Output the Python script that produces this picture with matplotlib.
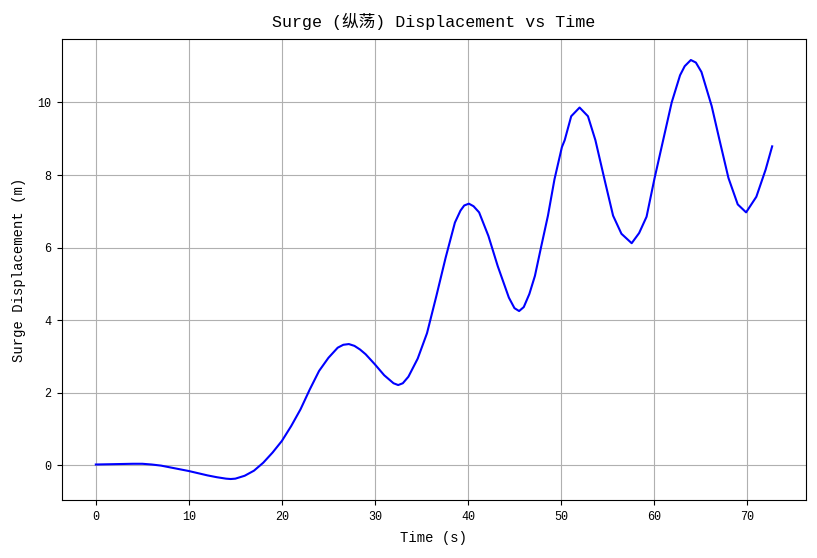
import matplotlib
matplotlib.use('Agg')
import matplotlib.pyplot as plt

plt.rcParams['font.family'] = ['Liberation Mono', 'Noto Sans CJK SC', 'DejaVu Sans']
plt.rcParams['axes.unicode_minus'] = False

# 时间和纵荡位移
time_s = [0, 2, 4, 5, 6, 7, 8, 9, 10, 11, 12, 13, 14, 14.5, 15, 16, 17, 18, 19,
          20, 21, 22, 23, 24, 25, 26, 26.6, 27.2, 27.8, 28.4, 29, 30, 31, 32, 32.5,
          33, 33.6, 34.6, 35.6, 36.6, 37.6, 38.6, 39.2, 39.6, 40.1, 40.6, 41.2,
          42.2, 43.2, 44.4, 45.0, 45.5, 46.0, 46.6, 47.2, 47.85, 48.6, 49.3, 50.1,
          50.4, 51.1, 52.0, 52.9, 53.7, 54.75, 55.6, 56.5, 57.6, 58.4, 59.2, 60.05,
          61.0, 61.9, 62.8, 63.3, 63.96, 64.5, 65.1, 66.2, 67, 68, 69, 69.9, 71,
          72, 72.7]
surge_m = [0.02, 0.03, 0.04, 0.04, 0.02, -0.01, -0.06, -0.11, -0.16, -0.22, -0.28,
           -0.33, -0.37, -0.38, -0.37, -0.29, -0.15, 0.07, 0.35,
           0.67, 1.08, 1.54, 2.09, 2.60, 2.96, 3.24, 3.32, 3.34, 3.29, 3.19, 3.06,
           2.78, 2.48, 2.26, 2.21,
           2.26, 2.44, 2.94, 3.64, 4.66, 5.72, 6.69, 7.02, 7.16, 7.21, 7.14, 6.97,
           6.32, 5.49, 4.62, 4.33, 4.25, 4.36, 4.72, 5.22, 6.00, 6.88, 7.88, 8.77,
           8.96, 9.62, 9.86, 9.62, 8.96, 7.80, 6.88, 6.38, 6.12, 6.40, 6.85, 7.90,
           8.98, 10.00, 10.75, 11.00, 11.17, 11.10, 10.84, 9.90, 9.01, 7.92, 7.19,
           6.97, 7.40,
           8.15, 8.79]

fig = plt.figure(figsize=(8.17, 5.58), dpi=100)
ax = fig.add_axes([0.0759, 0.104, 0.9106, 0.826])
ax.plot(time_s, surge_m, color='blue', linewidth=1.5)
ax.set_title('Surge (纵荡) Displacement vs Time', fontsize=12, pad=9)
ax.set_xlabel('Time (s)', fontsize=10, labelpad=6)
ax.set_ylabel('Surge Displacement (m)', fontsize=10, labelpad=8)
ax.tick_params(labelsize=8.5, pad=4.5)
ax.grid(True)

fig.savefig('out.png', dpi=100)
